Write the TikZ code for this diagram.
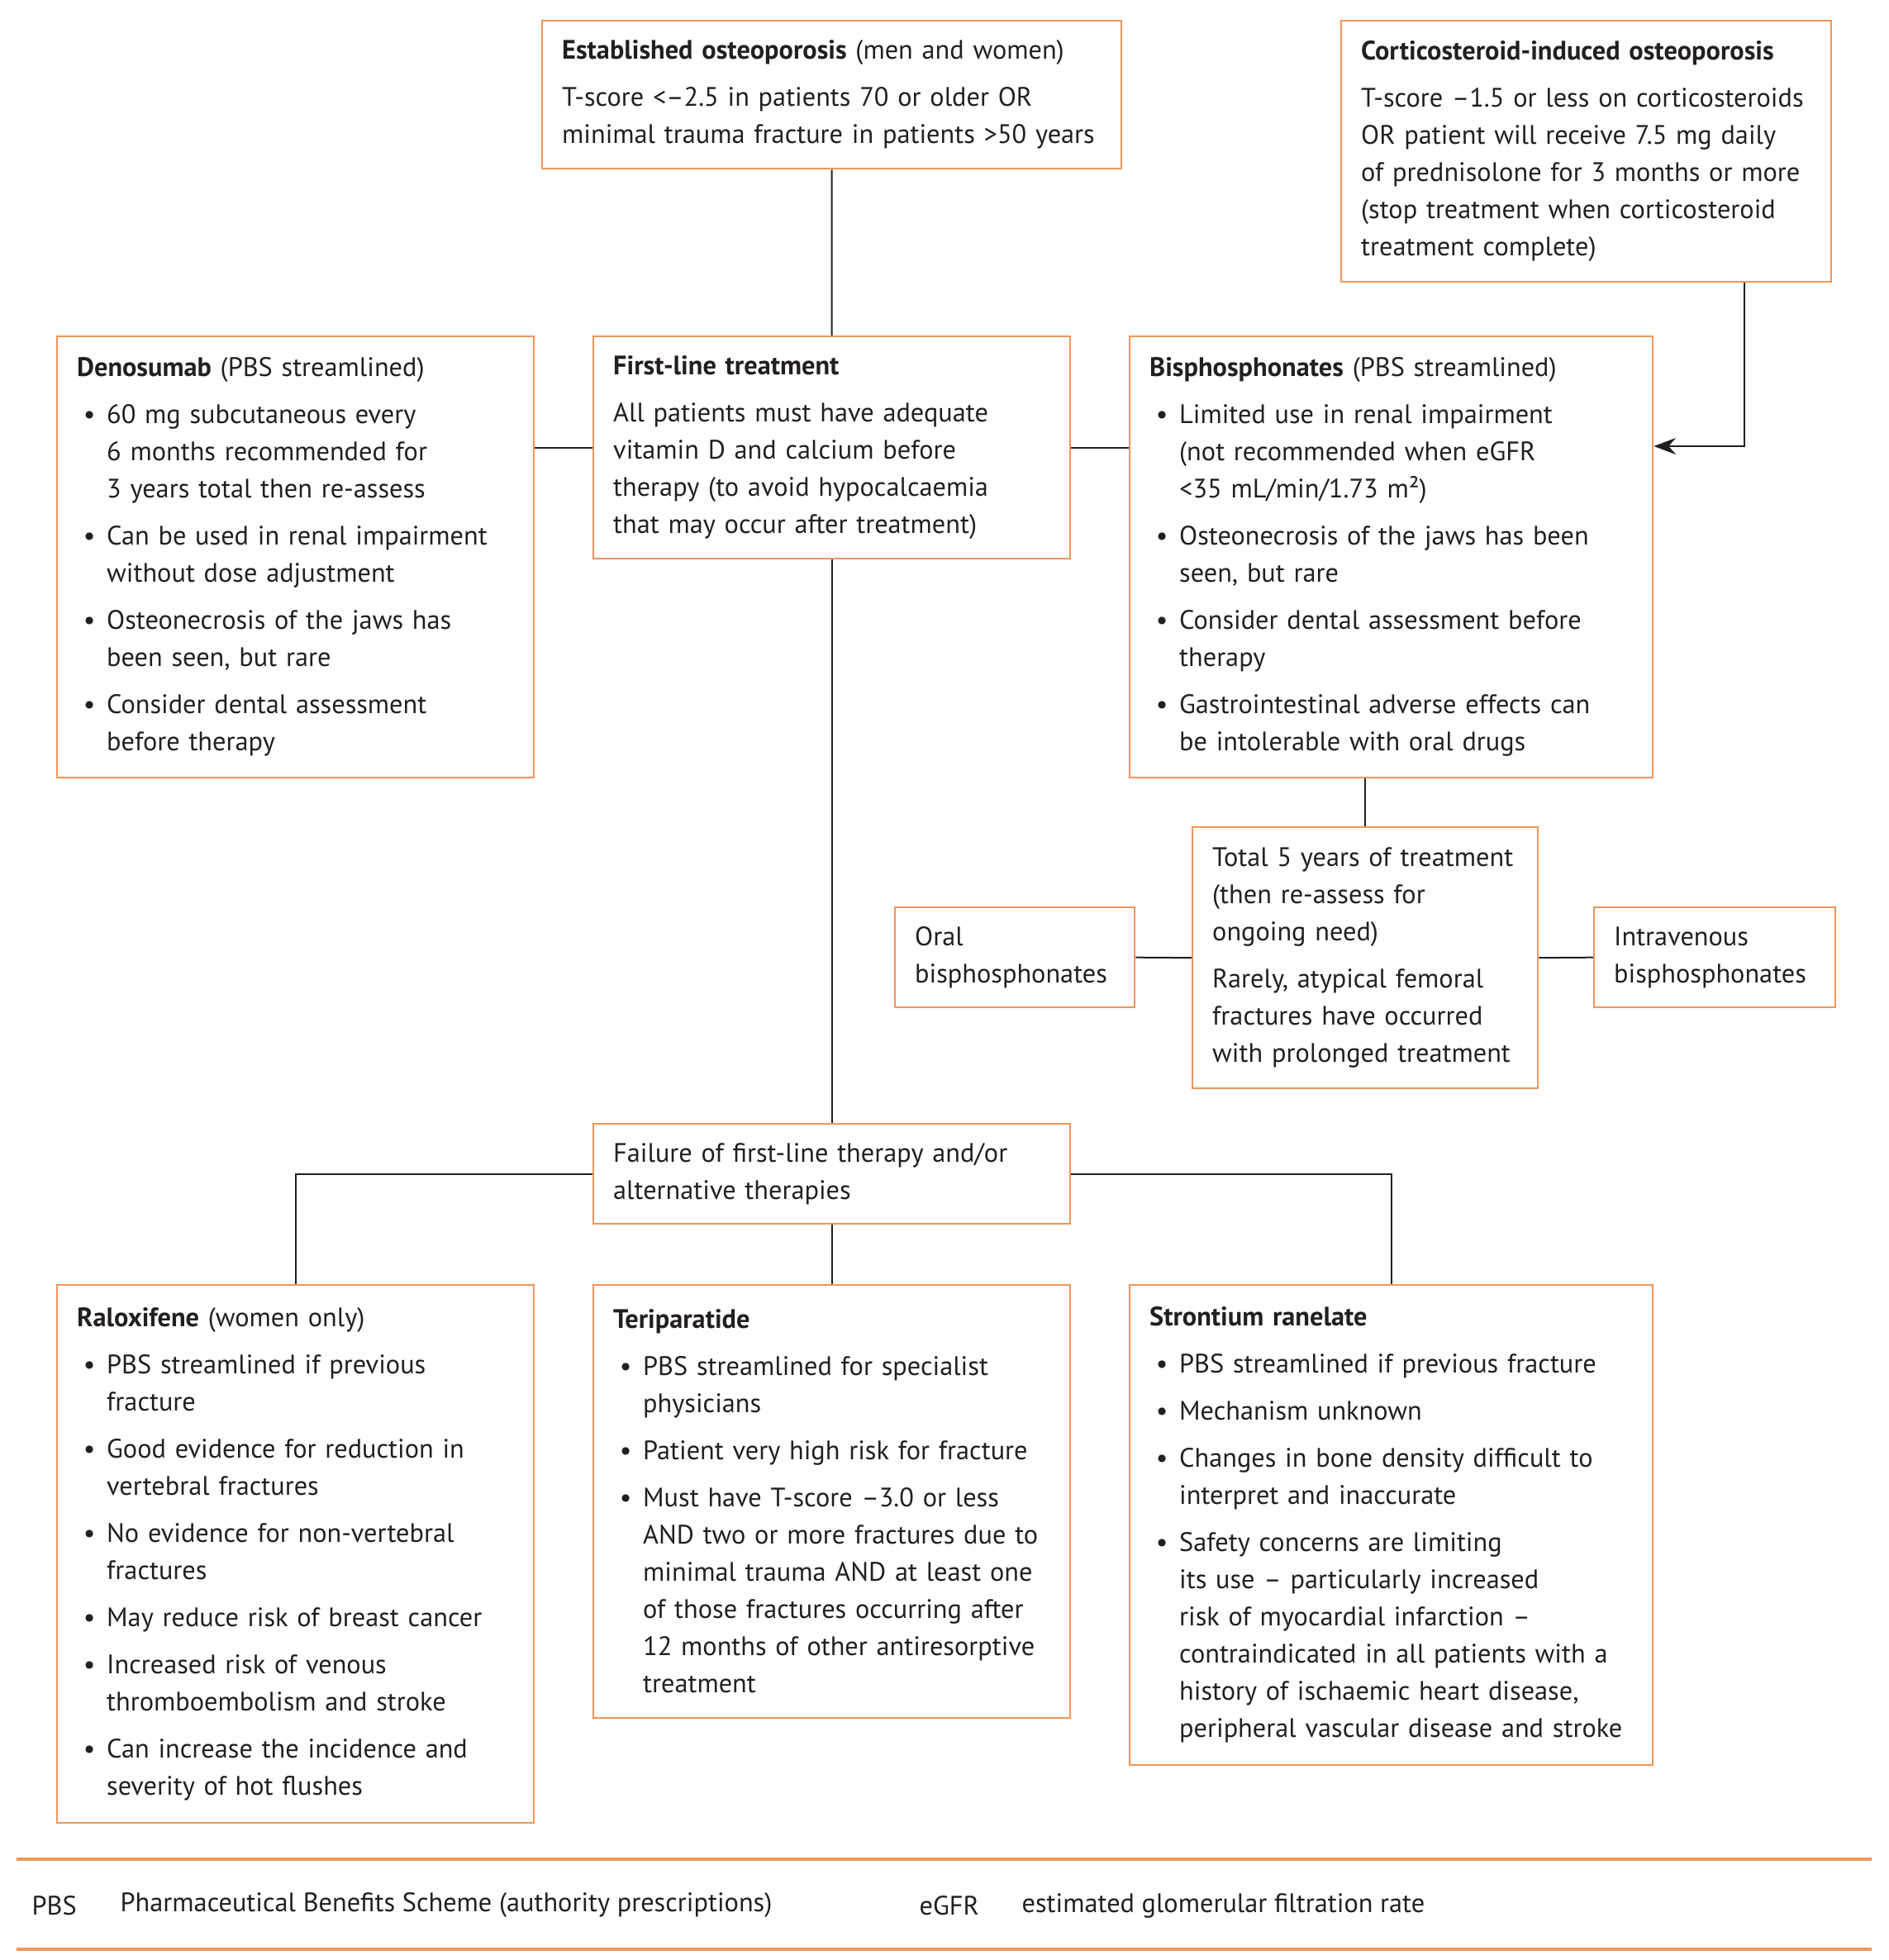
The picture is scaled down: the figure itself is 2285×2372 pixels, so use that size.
\documentclass[tikz,border=0pt]{standalone}
\usepackage{fontspec}
\setmainfont{PT Sans}
\usetikzlibrary{arrows.meta}
\definecolor{boxor}{RGB}{238,150,90}
\definecolor{ink}{RGB}{35,31,32}
\newcommand{\itm}{\par\vspace{3.6pt}\hangindent=10.8pt\hangafter=1\noindent\makebox[10.8pt][l]{\hspace{2.3pt}\textbullet}\ignorespaces}
\newcommand{\gp}{\par\vspace{3.6pt}\noindent}
\begin{document}
\begin{tikzpicture}[x=0.3pt,y=-0.3pt,
  box/.style={draw=boxor, line width=0.7pt, anchor=north west, align=left, inner xsep=7.2pt, inner ysep=0pt, font=\fontsize{9.7}{13.5}\selectfont, text=ink},
  conn/.style={draw=ink, line width=0.6pt},
  foot/.style={anchor=west, inner sep=0pt, font=\fontsize{9.7}{13.5}\selectfont, text=ink}]
\useasboundingbox (0,0) rectangle (2285,2372);

\node[box, text width=195.9pt, minimum height=53.7pt] (est) at (655,24)
{\textbf{Established osteoporosis} (men and women)\gp
T-score <–2.5 in patients 70 or older OR\newline minimal trauma fracture in patients >50 years};

\node[box, text width=163.5pt, minimum height=94.8pt] (cort) at (1622,24)
{\textbf{Corticosteroid-induced osteoporosis}\gp
T-score –1.5 or less on corticosteroids\newline OR patient will receive 7.5 mg daily\newline of prednisolone for 3 months or more\newline (stop treatment when corticosteroid\newline treatment complete)};

\node[box, text width=158.7pt, minimum height=160.2pt] (deno) at (68,406)
{\textbf{Denosumab} (PBS streamlined)
\itm 60 mg subcutaneous every\newline 6 months recommended for\newline 3 years total then re-assess
\itm Can be used in renal impairment\newline without dose adjustment
\itm Osteonecrosis of the jaws has\newline been seen, but rare
\itm Consider dental assessment\newline before therapy\par};

\node[box, text width=158.7pt, minimum height=80.7pt] (first) at (717,406)
{\textbf{First-line treatment}\gp
All patients must have adequate\newline vitamin D and calcium before\newline therapy (to avoid hypocalcaemia\newline that may occur after treatment)};

\node[box, text width=175.5pt, minimum height=160.2pt] (bis) at (1366,406)
{\textbf{Bisphosphonates} (PBS streamlined)
\itm Limited use in renal impairment\newline (not recommended when eGFR\newline <35 mL/min/1.73 m²)
\itm Osteonecrosis of the jaws has been\newline seen, but rare
\itm Consider dental assessment before\newline therapy
\itm Gastrointestinal adverse effects can\newline be intolerable with oral drugs\par};

\node[box, text width=111pt, minimum height=94.8pt] (tot) at (1442,1000)
{Total 5 years of treatment\newline (then re-assess for\newline ongoing need)\gp
Rarely, atypical femoral\newline fractures have occurred\newline with prolonged treatment};

\node[box, text width=72.6pt, minimum height=36.3pt] (oral) at (1082,1097)
{Oral\newline bisphosphonates};

\node[box, text width=73.2pt, minimum height=36.3pt] (iv) at (1928,1097)
{Intravenous\newline bisphosphonates};

\node[box, text width=158.7pt, minimum height=36.3pt] (fail) at (717,1359)
{Failure of first-line therapy and/or\newline alternative therapies};

\node[box, text width=158.7pt, minimum height=195.3pt] (ral) at (68,1554)
{\textbf{Raloxifene} (women only)
\itm PBS streamlined if previous\newline fracture
\itm Good evidence for reduction in\newline vertebral fractures
\itm No evidence for non-vertebral\newline fractures
\itm May reduce risk of breast cancer
\itm Increased risk of venous\newline thromboembolism and stroke
\itm Can increase the incidence and\newline severity of hot flushes\par};

\node[box, text width=158.7pt, minimum height=157.2pt] (ter) at (717,1554)
{\textbf{Teriparatide}
\itm PBS streamlined for specialist\newline physicians
\itm Patient very high risk for fracture
\itm Must have T-score –3.0 or less\newline AND two or more fractures due to\newline minimal trauma AND at least one\newline of those fractures occurring after\newline 12 months of other antiresorptive\newline treatment\par};

\node[box, text width=175.5pt, minimum height=174.3pt] (str) at (1366,1554)
{\textbf{Strontium ranelate}
\itm PBS streamlined if previous fracture
\itm Mechanism unknown
\itm Changes in bone density difficult to\newline interpret and inaccurate
\itm Safety concerns are limiting\newline its use – particularly increased\newline risk of myocardial infarction –\newline contraindicated in all patients with a\newline history of ischaemic heart disease,\newline peripheral vascular disease and stroke\par};

% connectors
\draw[conn] (est.south) -- (first.north);
\draw[conn] (first.west) -- (first.west -| deno.east);
\draw[conn] (first.east) -- (first.east -| bis.west);
\coordinate (ca) at (2111,540);
\draw[conn, -{Stealth[length=8pt,width=6pt]}] (cort.south -| ca) |- (ca -| bis.east);
\draw[conn] (bis.south -| tot.north) -- (tot.north);
\draw[conn] (oral.east) -- (tot.west);
\draw[conn] (tot.east) -- (iv.west);
\draw[conn] (first.south) -- (fail.north);
\draw[conn] (fail.west) -| (ral.north);
\draw[conn] (fail.east) -| (str.north);
\draw[conn] (fail.south) -- (ter.north);

% footer
\draw[boxor, line width=1pt] (20,2250) -- (2265,2250);
\draw[boxor, line width=1pt] (20,2359) -- (2265,2359);
\node[foot] (fa) at (38,2306) {PBS};
\node[foot] (fb) at (145,2306) {Pharmaceutical Benefits Scheme (authority prescriptions)};
\node[foot] (fc) at (1112,2306) {eGFR};
\node[foot] (fd) at (1236,2306) {estimated glomerular filtration rate};
\end{tikzpicture}
\end{document}
